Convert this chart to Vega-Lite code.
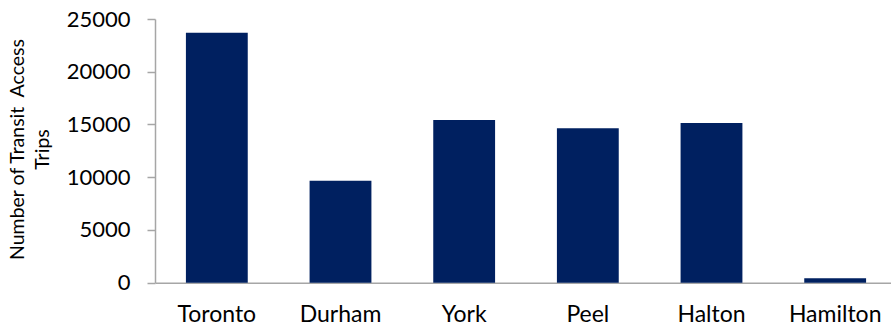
{
  "$schema": "https://vega.github.io/schema/vega-lite/v6.json",
  "autosize": "none",
  "width": 742,
  "height": 263.7,
  "padding": {"left": 155, "top": 19, "right": 0, "bottom": 47.3},
  "background": "white",
  "config": {
    "view": {"stroke": null},
    "font": "Lato"
  },
  "data": {
    "values": [
      {"region": "Toronto", "trips": 23700},
      {"region": "Durham", "trips": 9660},
      {"region": "York", "trips": 15420},
      {"region": "Peel", "trips": 14650},
      {"region": "Halton", "trips": 15150},
      {"region": "Hamilton", "trips": 420}
    ]
  },
  "mark": {"type": "bar", "color": "#002060"},
  "encoding": {
    "x": {
      "field": "region",
      "type": "nominal",
      "sort": null,
      "scale": {"paddingInner": 0.5, "paddingOuter": 0.25},
      "axis": {
        "title": null,
        "labelAngle": 0,
        "ticks": false,
        "tickSize": 0,
        "domainColor": "#a6a6a6",
        "domainWidth": 1.5,
        "labelFont": "Lato",
        "labelFontSize": 23,
        "labelColor": "#000000",
        "labelBaseline": "alphabetic",
        "labelPadding": 39
      }
    },
    "y": {
      "field": "trips",
      "type": "quantitative",
      "scale": {"domain": [0, 25000], "nice": false},
      "axis": {
        "values": [0, 5000, 10000, 15000, 20000, 25000],
        "format": "d",
        "grid": false,
        "domainColor": "#a6a6a6",
        "domainWidth": 1.5,
        "tickColor": "#a6a6a6",
        "tickWidth": 1.5,
        "tickSize": 8,
        "labelFont": "Lato",
        "labelFontSize": 22,
        "labelColor": "#000000",
        "labelPadding": 17,
        "title": ["Number of Transit\u00a0 Access", "Trips"],
        "titleFont": "Lato",
        "titleFontSize": 19.5,
        "titleFontWeight": "normal",
        "titleColor": "#000000",
        "titleLineHeight": 25,
        "titleAngle": -90,
        "titleAlign": "center",
        "titleBaseline": "top",
        "titleX": -147,
        "titleY": 130
      }
    }
  }
}
